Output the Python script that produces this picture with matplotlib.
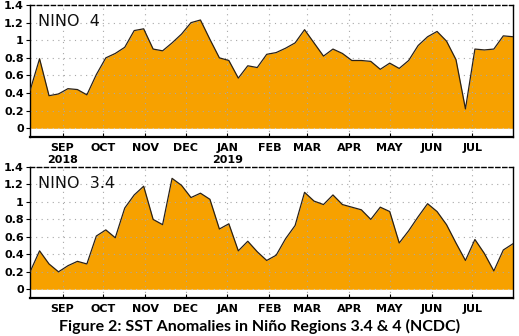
import numpy as np
import matplotlib
matplotlib.use("Agg")
import matplotlib.pyplot as plt
import matplotlib.dates as mdates

# Weekly SST anomaly values (deg C), weeks centred on Wednesdays
weeks = np.arange(np.datetime64("2018-08-08"), np.datetime64("2019-08-01"),
                  np.timedelta64(7, "D"))

nino4 = [0.43, 0.79, 0.37, 0.39, 0.45, 0.44, 0.38, 0.61, 0.80, 0.85,
         0.92, 1.11, 1.13, 0.90, 0.88, 0.97, 1.07, 1.20, 1.23, 1.01,
         0.80, 0.77, 0.57, 0.71, 0.69, 0.84, 0.86, 0.91, 0.97, 1.12,
         0.97, 0.82, 0.90, 0.85, 0.77, 0.77, 0.76, 0.67, 0.74, 0.68,
         0.77, 0.94, 1.04, 1.10, 0.99, 0.78, 0.22, 0.90, 0.89, 0.90,
         1.05, 1.04]

nino34 = [0.20, 0.44, 0.29, 0.20, 0.27, 0.32, 0.29, 0.61, 0.68, 0.59,
          0.93, 1.08, 1.18, 0.80, 0.74, 1.27, 1.19, 1.05, 1.10, 1.03,
          0.69, 0.75, 0.44, 0.55, 0.43, 0.33, 0.39, 0.58, 0.73, 1.11,
          1.01, 0.97, 1.08, 0.97, 0.94, 0.91, 0.80, 0.94, 0.89, 0.53,
          0.67, 0.83, 0.98, 0.89, 0.74, 0.53, 0.33, 0.57, 0.41, 0.21,
          0.45, 0.52]

panel_names = ["NINO  4", "NINO  3.4"]
month_labels = ["SEP", "OCT", "NOV", "DEC", "JAN", "FEB", "MAR", "APR",
                "MAY", "JUN", "JUL"]
month_starts = np.arange(np.datetime64("2018-09"), np.datetime64("2019-08"),
                         np.timedelta64(1, "M")).astype("datetime64[D]")
year_labels = {0: "2018", 4: "2019"}
yticks = [0, 0.2, 0.4, 0.6, 0.8, 1.0, 1.2, 1.4]
ytick_labels = ["0", "0.2", "0.4", "0.6", "0.8", "1", "1.2", "1.4"]
title = "Figure 2: SST Anomalies in Niño Regions 3.4 & 4 (NCDC)"

fill_color = "#F7A100"
tick_font = dict(family=["Liberation Sans Narrow", "DejaVu Sans"],
                 weight="bold", size=8)

fig = plt.figure(figsize=(5.19, 3.36), dpi=100)
boxes = [[0.058, 0.592, 0.930, 0.393], [0.058, 0.113, 0.930, 0.390]]

xt = mdates.date2num(weeks.astype("datetime64[s]").astype(object))
xm = mdates.date2num(month_starts.astype("datetime64[s]").astype(object))

axes = []
for k, (box, vals, name) in enumerate(zip(boxes, [nino4, nino34], panel_names)):
    ax = fig.add_axes(box)
    axes.append(ax)
    v = np.asarray(vals)
    ax.fill_between(xt, 0, v, color=fill_color, lw=0, zorder=1)
    ax.plot(xt, v, color="#2a2116", lw=0.9, zorder=3)
    ax.set_xlim(xt[0], xt[-1])
    ax.set_ylim(-0.1, 1.4)

    # dotted reference grid drawn over the filled area
    for y in yticks[1:]:
        ax.axhline(y, color="#a8a8a8", lw=0.8, ls=(0, (1, 4)), zorder=2)
    ax.axhline(0, color="#c8c8c8", lw=0.8, ls=(0, (1, 4)), zorder=2)
    for x in xm:
        ax.axvline(x, color="#a8a8a8", lw=0.8, ls=(0, (1, 4)), zorder=2)

    ax.set_yticks(yticks)
    ax.set_yticklabels(ytick_labels, fontdict=tick_font)
    ax.set_xticks(xm)
    ax.set_xticklabels(month_labels, fontdict=tick_font)
    ax.tick_params(axis="y", direction="out", length=3, width=0.8, pad=1.5)
    ax.tick_params(axis="x", direction="in", length=3, width=0.8, pad=4.0)

    for side in ["left", "right"]:
        ax.spines[side].set_linewidth(1.0)
    ax.spines["bottom"].set_linewidth(1.6)
    ax.spines["top"].set_linewidth(1.0)
    ax.spines["top"].set_linestyle((0, (3, 2)))

    ax.text(0.017, 0.93, name, transform=ax.transAxes, ha="left", va="top",
            fontsize=11.5, family="DejaVu Sans", color="#111111", zorder=4)

# year labels under SEP and JAN of the upper panel, drawn at figure level
# so the lower panel does not cover them
top_ax = axes[0]
for i, lab in year_labels.items():
    disp = top_ax.transData.transform((xm[i], 0))
    fx = fig.transFigure.inverted().transform(disp)[0]
    fig.text(fx, 1 - 160 / 336, lab, ha="center", va="center", **tick_font)

fig.text(0.5, 0.028, title, ha="center", va="center", fontsize=11.5,
         family=["Lato", "DejaVu Sans"], weight="bold")

fig.savefig("out.png", dpi=100)
